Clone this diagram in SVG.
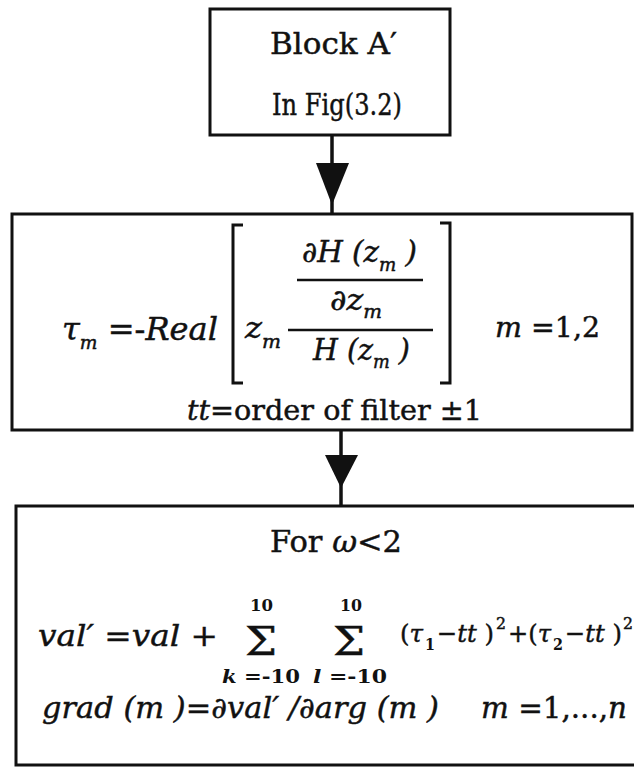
<svg xmlns="http://www.w3.org/2000/svg" width="634" height="767" viewBox="0 0 634 767">
<style>
.box{fill:none;stroke:#111;stroke-width:3}
.ln{stroke:#111;stroke-width:3.5;fill:none}
.bar{stroke:#111;stroke-width:2.6}
.br{fill:none;stroke:#111;stroke-width:3}
.head{fill:#111}
text{font-family:"DejaVu Serif","Liberation Serif",serif;fill:#111;stroke:#111;stroke-width:0.45}
.up{font-size:30px}
.it{font-size:29px;font-style:italic}
.u{font-style:normal}
.s{font-size:18px}
.lim{font-size:19px;font-weight:bold;stroke-width:0}
.top{font-size:17px;font-weight:bold;stroke-width:0}
.sig{font-size:40px}
.ex{font-size:25px;font-style:italic}
.ix{font-size:16px;font-weight:bold;stroke-width:0}
.pw{font-size:16px}
</style>
<rect width="634" height="767" fill="#fff"/>
<g id="connectors">
<line class="ln" x1="332" y1="135" x2="332" y2="213"/>
<polygon class="head" points="316,163 349,163 332,205"/>
<line class="ln" x1="341" y1="430" x2="341" y2="507"/>
<polygon class="head" points="325,455 358,455 341,488"/>
</g>
<g id="blockA">
<rect class="box" x="210" y="9" width="240" height="126"/>
<text class="up" x="270" y="54" textLength="127" lengthAdjust="spacingAndGlyphs">Block A′</text>
<text class="up" x="272" y="115" textLength="130" lengthAdjust="spacingAndGlyphs">In Fig(3.2)</text>
</g>
<g id="tau">
<rect class="box" x="12" y="214" width="620" height="216"/>
<text class="it" x="62" y="340" style="font-size:31px" textLength="156" lengthAdjust="spacingAndGlyphs">τ<tspan class="s" dy="9">m</tspan><tspan class="u" dy="-9"> =-</tspan>Real</text>
<path class="br" d="M243,225 H233 V383 H243"/>
<path class="br" d="M440,223 H450 V383 H440"/>
<text class="it" x="245" y="338" textLength="36" lengthAdjust="spacingAndGlyphs">z<tspan class="s" dy="10">m</tspan></text>
<text class="it" x="302" y="262" textLength="115" lengthAdjust="spacingAndGlyphs">∂H (z<tspan class="s" dy="9">m</tspan><tspan dy="-9"> )</tspan></text>
<line class="bar" x1="297" y1="280" x2="423" y2="280"/>
<text class="it" x="330" y="310" textLength="52" lengthAdjust="spacingAndGlyphs">∂z<tspan class="s" dy="8">m</tspan></text>
<line class="bar" x1="288" y1="330" x2="433" y2="330"/>
<text class="it" x="313" y="360" textLength="97" lengthAdjust="spacingAndGlyphs">H (z<tspan class="s" dy="8">m</tspan><tspan dy="-8"> )</tspan></text>
<text class="it" x="495" y="337" style="font-size:28px" textLength="105" lengthAdjust="spacingAndGlyphs">m<tspan class="u"> =1,2</tspan></text>
<text class="it" x="187" y="420" style="font-size:28.5px" textLength="295" lengthAdjust="spacingAndGlyphs">tt<tspan class="u">=order of filter ±1</tspan></text>
</g>
<g id="gradient">
<rect class="box" x="16" y="506" width="640" height="259"/>
<text class="up" x="270" y="552" textLength="132" lengthAdjust="spacingAndGlyphs">For <tspan font-style="italic">ω</tspan>&lt;2</text>
<text class="it" x="38" y="646" style="font-size:30px" textLength="180" lengthAdjust="spacingAndGlyphs">val′ <tspan class="u">=</tspan>val <tspan class="u">+</tspan></text>
<text class="top" x="250" y="611" textLength="23" lengthAdjust="spacingAndGlyphs">10</text>
<text class="sig" x="245" y="655" textLength="32" lengthAdjust="spacingAndGlyphs">Σ</text>
<text class="lim" x="222" y="683" textLength="78" lengthAdjust="spacingAndGlyphs"><tspan font-style="italic">k</tspan> =-10</text>
<text class="top" x="340" y="611" textLength="22" lengthAdjust="spacingAndGlyphs">10</text>
<text class="sig" x="333" y="655" textLength="32" lengthAdjust="spacingAndGlyphs">Σ</text>
<text class="lim" x="313" y="683" textLength="74" lengthAdjust="spacingAndGlyphs"><tspan font-style="italic">l</tspan> =-10</text>
<text class="ex" x="400" y="642" textLength="23" lengthAdjust="spacingAndGlyphs"><tspan class="u">(</tspan>τ</text>
<text class="ix" x="425" y="650" textLength="10" lengthAdjust="spacingAndGlyphs">1</text>
<text class="ex" x="437" y="642" textLength="57" lengthAdjust="spacingAndGlyphs"><tspan class="u">−</tspan>tt <tspan class="u">)</tspan></text>
<text class="pw" x="496" y="629" textLength="10" lengthAdjust="spacingAndGlyphs">2</text>
<text class="ex" x="508" y="642" textLength="43" lengthAdjust="spacingAndGlyphs"><tspan class="u">+(</tspan>τ</text>
<text class="ix" x="553" y="650" textLength="10" lengthAdjust="spacingAndGlyphs">2</text>
<text class="ex" x="565" y="642" textLength="57" lengthAdjust="spacingAndGlyphs"><tspan class="u">−</tspan>tt <tspan class="u">)</tspan></text>
<text class="pw" x="623" y="629" textLength="10" lengthAdjust="spacingAndGlyphs">2</text>
<text class="it" x="42" y="718" style="font-size:29.5px" textLength="397" lengthAdjust="spacingAndGlyphs">grad (m )<tspan class="u">=</tspan>∂val′ /∂arg (m )</text>
<text class="it" x="481" y="718" textLength="146" lengthAdjust="spacingAndGlyphs">m <tspan class="u">=1,...,</tspan>n</text>
</g>
</svg>
